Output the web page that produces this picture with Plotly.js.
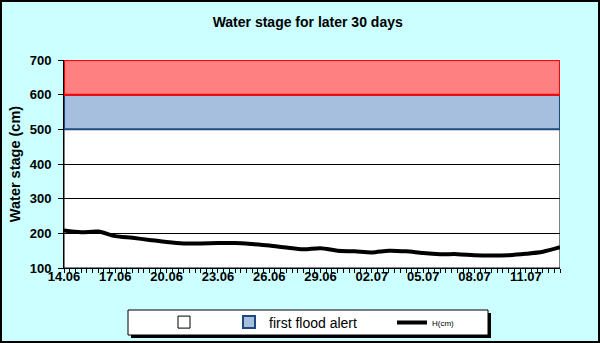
<!DOCTYPE html>
<html><head><meta charset="utf-8">
<script src="https://cdn.plot.ly/plotly-3.0.1.min.js"></script>
<style>html,body{margin:0;padding:0;background:#CCFFFF;overflow:hidden}</style>
</head><body><div id="chart" style="width:600px;height:343px"></div>
<script>
// ---- data ----
const dates = ['2010-06-14','2010-06-15','2010-06-16','2010-06-17','2010-06-18','2010-06-19',
  '2010-06-20','2010-06-21','2010-06-22','2010-06-23','2010-06-24','2010-06-25','2010-06-26',
  '2010-06-27','2010-06-28','2010-06-29','2010-06-30','2010-07-01','2010-07-02','2010-07-03',
  '2010-07-04','2010-07-05','2010-07-06','2010-07-07','2010-07-08','2010-07-09','2010-07-10',
  '2010-07-11','2010-07-12','2010-07-13'];
const waterLevel = [208,203,205,192,187,181,175,171,171,172,172,169,165,159,154,157,150,148,
  145,150,148,143,140,140,137,136,137,141,147,160];
const lineName = 'H(cm)';
const bandNames = [' ', 'first flood alert', 'second flood alert'];
const bandLow = [100, 500, 600];
const bandHigh = [500, 600, 700];
const titleText = 'Water stage for later 30 days';
const yTitleText = 'Water stage (cm)';

// ---- styles ----
const bandFill = ['#FFFFFF', '#A7BFDE', '#FF8080'];
const bandLine = ['#000000', '#1F497D', '#FF0000'];
const bandWidth = [1, 2, 2];
const bandLayer = ['below', 'between', 'between'];
const bandLegend = ['legend', 'legend2', null];
const FONT = 'Arial, "Liberation Sans", sans-serif';

const W = 600, H = 343, M = {l: 64, r: 40, t: 60, b: 75};
const pw = W - M.l - M.r, ph = H - M.t - M.b;
const px2x = p => (p - M.l) / pw;
const px2y = p => 1 - (p - M.t) / ph;

const shapes = bandLow.map((lo, i) => ({
  type: 'rect', xref: 'x', yref: 'y',
  x0: dates[0], x1: dates[dates.length - 1], y0: lo, y1: bandHigh[i],
  fillcolor: bandFill[i], line: {color: bandLine[i], width: bandWidth[i]},
  layer: bandLayer[i],
  name: bandNames[i],
  showlegend: bandLegend[i] !== null,
  legend: bandLegend[i] || 'legend'
}));

// legend box + shadow + outer frame (paper coords)
shapes.push({type: 'rect', xref: 'paper', yref: 'paper', layer: 'above',
  x0: px2x(131), x1: px2x(491), y0: px2y(338), y1: px2y(313),
  fillcolor: '#000000', line: {width: 0}});
shapes.push({type: 'rect', xref: 'paper', yref: 'paper', layer: 'above',
  x0: px2x(128), x1: px2x(488), y0: px2y(335), y1: px2y(310),
  fillcolor: '#FFFFFF', line: {color: '#000000', width: 1}});
shapes.push({type: 'rect', xref: 'paper', yref: 'paper', layer: 'above',
  x0: px2x(1), x1: px2x(W - 1), y0: px2y(H - 1), y1: px2y(1),
  fillcolor: 'rgba(0,0,0,0)', line: {color: '#000000', width: 2}});

const traces = [{
  type: 'scatter', mode: 'lines', x: dates, y: waterLevel, name: lineName,
  line: {color: '#000000', width: 4, shape: 'spline', smoothing: 0.8},
  legend: 'legend3', hoverinfo: 'x+y'
}];

const legendBase = {bgcolor: 'rgba(0,0,0,0)', borderwidth: 0, orientation: 'h',
  xanchor: 'left', yanchor: 'middle', y: px2y(322.5)};

const layout = {
  width: W, height: H, margin: Object.assign({pad: 0, autoexpand: false}, M),
  paper_bgcolor: '#CCFFFF', plot_bgcolor: '#FFFFFF',
  font: {family: FONT, color: '#000000', size: 13},
  title: {text: titleText, font: {family: FONT, size: 14, weight: 700, color: '#000000'},
    xref: 'container', x: 307.7 / W, y: 1 - 22 / H, xanchor: 'center', yanchor: 'middle'},
  xaxis: {type: 'date', range: [dates[0], dates[dates.length - 1]],
    tick0: dates[0], dtick: 3 * 86400000, tickformat: '%d.%m',
    ticks: 'outside', ticklen: 4, tickwidth: 1, tickcolor: '#000000', ticklabelstandoff: -8,
    minor: {dtick: 8 * 3600000, ticks: 'outside', ticklen: 4, tickcolor: '#000000', showgrid: false},
    showline: true, linecolor: '#000000', linewidth: 1, showgrid: false, zeroline: false,
    tickfont: {family: FONT, size: 13, weight: 700, color: '#000000'}},
  yaxis: {range: [100, 700], dtick: 100, tick0: 100,
    ticks: 'outside', ticklen: 5, tickcolor: '#000000', ticklabelstandoff: 4,
    showline: true, linecolor: '#000000', linewidth: 1,
    showgrid: true, gridcolor: '#000000', gridwidth: 1, zeroline: false,
    tickfont: {family: FONT, size: 13, weight: 700, color: '#000000'},
    title: {text: yTitleText, font: {family: FONT, size: 14.5, weight: 700, color: '#000000'}, standoff: 5}},
  shapes: shapes,
  legend: Object.assign({}, legendBase, {x: px2x(164), font: {family: FONT, size: 14, color: '#000000'}}),
  legend2: Object.assign({}, legendBase, {x: px2x(229), font: {family: FONT, size: 14, color: '#000000'}}),
  legend3: Object.assign({}, legendBase, {x: px2x(392), font: {family: FONT, size: 8, color: '#000000'}}),
  showlegend: true
};

Plotly.newPlot('chart', traces, layout, {displayModeBar: false, staticPlot: true});
</script>
</body></html>
